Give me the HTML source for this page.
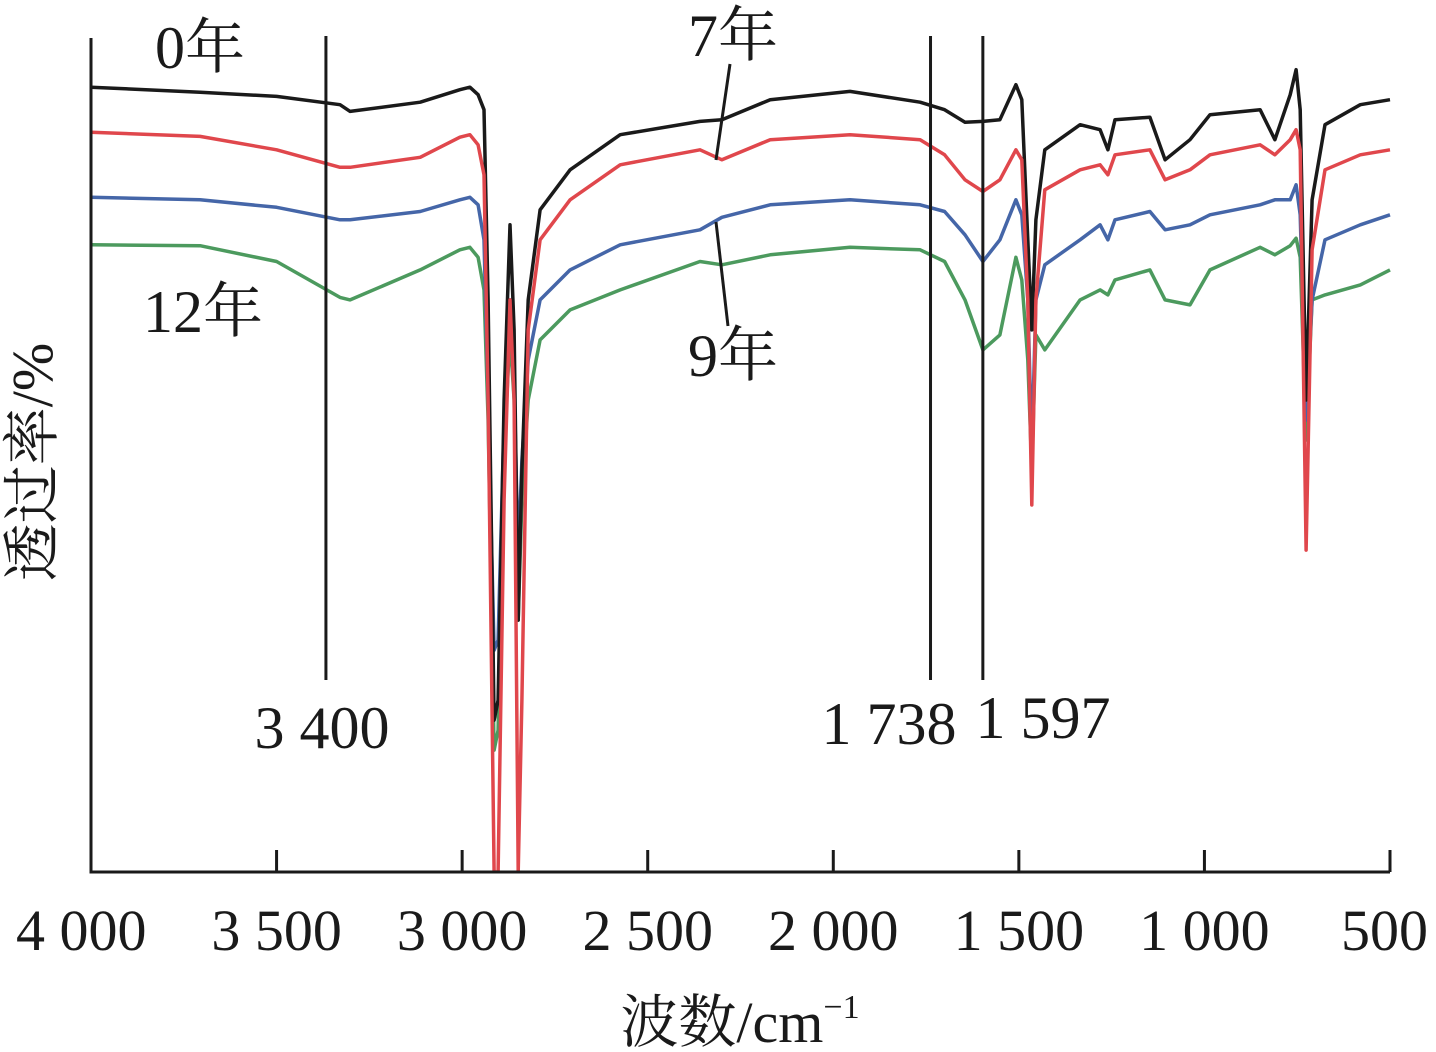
<!DOCTYPE html>
<html><head><meta charset="utf-8">
<style>
html,body{margin:0;padding:0;background:#fff;}
svg{display:block;}
text{font-family:"Liberation Serif","Noto Serif CJK SC",serif;fill:#1a1a1a;}
</style></head>
<body>
<svg id="chart" width="1436" height="1052" viewBox="0 0 1436 1052" xmlns="http://www.w3.org/2000/svg">
<g id="plot"></g>
</svg>
<script>
const wavenumbers=[4000,3706,3500,3329,3302,3113,3006,2979,2957,2941,2930,2914,2903,2887,2871,2860,2849,2839,2822,2790,2709,2574,2359,2300,2170,1955,1766,1700,1645,1597,1551,1508,1492,1476,1465,1454,1430,1335,1281,1260,1241,1147,1106,1039,985,850,810,769,753,742,726,710,675,580,500];
const year0=[94.1,93.5,93.0,92.0,91.2,92.3,93.8,94.1,93.2,91.4,68.6,18.2,20.6,56.6,77.6,65.0,30.2,48.2,68.6,79.4,84.2,88.4,90.0,90.2,92.6,93.6,92.3,91.4,89.9,90.0,90.2,94.4,92.6,75.8,65.0,78.2,86.6,89.6,89.0,86.6,90.2,90.5,85.4,87.8,90.8,91.4,87.8,93.2,96.2,91.4,56.6,80.6,89.6,92.0,92.6];
const year7=[88.7,88.2,86.6,84.5,84.5,85.7,88.1,88.4,87.2,83.6,56.6,0,0,44.6,68.6,56.6,0,20.6,65.0,75.8,80.6,84.8,86.6,85.4,87.8,88.4,87.8,86.0,83.0,81.6,83.0,86.6,85.4,68.6,44.0,68.6,81.8,84.2,84.8,83.6,86.0,86.6,83.0,84.2,86.0,87.2,86.0,87.8,89.0,86.6,38.6,74.6,84.2,86.0,86.6];
const year9=[80.9,80.6,79.7,78.2,78.2,79.2,80.6,80.9,80.0,75.8,56.6,26.6,27.8,54.2,68.6,59.0,37.4,49.4,61.4,68.6,72.2,75.2,77.0,78.5,80.0,80.6,80.0,79.2,76.4,73.2,75.8,80.6,78.8,68.6,50.6,68.6,72.8,75.8,77.6,75.8,78.2,79.2,77.0,77.6,78.8,80.0,80.6,80.6,82.4,78.8,54.2,68.6,75.8,77.6,78.8];
const year12=[75.2,75.1,73.2,68.9,68.6,72.2,74.6,74.9,73.7,69.8,54.2,14.6,17.0,50.6,64.4,56.6,30.2,44.6,56.6,63.8,67.4,69.8,73.2,72.8,74.0,74.9,74.6,73.2,68.6,62.6,64.4,73.7,71.0,61.4,48.2,64.4,62.6,68.6,69.8,69.2,71.0,72.2,68.6,68.0,72.2,74.9,74.0,75.1,76.0,73.7,51.8,68.6,69.2,70.4,72.2];
const xTicks=[4000,3500,3000,2500,2000,1500,1000,500];
const xTickLabels=["4 000","3 500","3 000","2 500","2 000","1 500","1 000","500"];
const markers=[3367,1738,1597];
const markerLabels=["3 400","1 738","1 597"];

const X0=91,X1=1390,Y0=872,Y1=38;
const xs=w=>X0+(4000-w)/3500*(X1-X0);
const ys=t=>Y0-t/100*(Y0-Y1);
const NS="http://www.w3.org/2000/svg";
const g=document.getElementById('plot');
function mk(tag,attrs,parent){const e=document.createElementNS(NS,tag);for(const k in attrs)e.setAttribute(k,attrs[k]);(parent||g).appendChild(e);return e;}

const clip=mk('clipPath',{id:'cp'});mk('rect',{x:X0,y:0,width:X1-X0+5,height:Y0},clip);

const series=[[year0,'#1a1a1a','series-0-year'],[year7,'#e0474c','series-7-year'],[year9,'#4566a8','series-9-year'],[year12,'#4c9a5e','series-12-year']];
[3,2,0,1].forEach(i=>{
  const [vals,col,name]=series[i];
  const d=wavenumbers.map((w,j)=>(j?'L':'M')+xs(w).toFixed(1)+','+ys(vals[j]).toFixed(1)).join('');
  const p=mk('path',{d:d,fill:'none',stroke:col,'stroke-width':3.5,'stroke-linejoin':'round','clip-path':'url(#cp)'});
  
  
});

markers.forEach((m,i)=>{
  const l=mk('line',{x1:xs(m),x2:xs(m),y1:36,y2:680,stroke:'#1a1a1a','stroke-width':3});
  
  
});
const ml=[[322,748],[889,744],[1043,738]];
markerLabels.forEach((s,i)=>{
  const t=mk('text',{x:ml[i][0],y:ml[i][1],'text-anchor':'middle','font-size':60});t.textContent=s;
  
  
});

const ax=mk('path',{d:`M${X0},${Y1}L${X0},${Y0}L${X1},${Y0}`,fill:'none',stroke:'#1a1a1a','stroke-width':3});


xTicks.forEach((w,i)=>{
  const t=mk('line',{x1:xs(w),x2:xs(w),y1:Y0,y2:Y0-22,stroke:'#1a1a1a','stroke-width':3});
  
  
  const lb=mk('text',{x:xs(w),y:950,'text-anchor':i==0?'start':(i==xTicks.length-1?'end':'middle'),'font-size':58});
  if(i==0)lb.setAttribute('x',16);
  if(i==xTicks.length-1)lb.setAttribute('x',1428);
  lb.textContent=xTickLabels[i];
  
  
});
</script>
<svg style="position:absolute;left:0;top:0" width="1436" height="1052">
<text x="155" y="68" font-size="60">0年</text>
<text x="688" y="56" font-size="60">7年</text>
<line x1="730" y1="64" x2="716" y2="160" stroke="#1a1a1a" stroke-width="3"/>
<text x="688" y="376" font-size="60">9年</text>
<line x1="716" y1="222" x2="728" y2="326" stroke="#1a1a1a" stroke-width="3"/>
<text x="143" y="332" font-size="60">12年</text>
<text x="740" y="1042" text-anchor="middle" font-size="58">波数/cm<tspan font-size="34" dy="-24">−1</tspan></text>
<text transform="translate(52,462) rotate(-90)" text-anchor="middle" font-size="58">透过率/%</text>
</svg>
</body></html>
